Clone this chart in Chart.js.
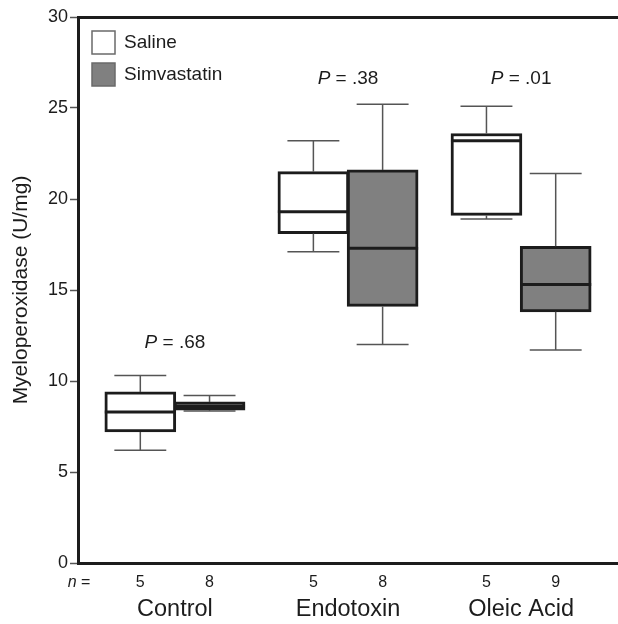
<!DOCTYPE html>
<html>
<head>
<meta charset="utf-8">
<title>Myeloperoxidase box plot</title>
<script src="https://cdn.jsdelivr.net/npm/chart.js@4/dist/chart.umd.min.js"></script>
<style>
  html, body { margin: 0; padding: 0; background: #fff; }
</style>
</head>
<body>
<canvas id="mpoChart" width="618" height="624"></canvas>
<script>
// ---------------------------------------------------------------------------
// Data
// ---------------------------------------------------------------------------
const groups = ['Control', 'Endotoxin', 'Oleic Acid'];
const seriesNames = ['Saline', 'Simvastatin'];

const salineMin = [6.2, 17.1, 18.9];
const salineQ1 = [7.2, 18.1, 19.1];
const salineMedian = [8.3, 19.3, 23.2];
const salineQ3 = [9.4, 21.5, 23.6];
const salineMax = [10.3, 23.2, 25.1];
const salineN = [5, 5, 5];

const simvaMin = [8.35, 12.0, 11.7];
const simvaQ1 = [8.4, 14.1, 13.8];
const simvaMedian = [8.6, 17.3, 15.3];
const simvaQ3 = [8.85, 21.6, 17.4];
const simvaMax = [9.2, 25.2, 21.4];
const simvaN = [8, 8, 9];

const pValues = ['.68', '.38', '.01'];
const yTicks = [0, 5, 10, 15, 20, 25, 30];

// ---------------------------------------------------------------------------
// Look and layout
// ---------------------------------------------------------------------------
const FONT = "'Liberation Sans', Arial, Helvetica, sans-serif";
const INK = '#1c1c1c';
const WHISKER = '#555555';
const SIMVA_FILL = '#808080';

const boxOffset = 0.2; // box centre distance from group centre (axis units)
const boxWidthPx = 71;
const capWidth = 0.3; // axis units
const pLabelY = [12.1, 26.6, 26.6]; // where the P labels sit, in y units

const series = [
  { min: salineMin, q1: salineQ1, med: salineMedian, q3: salineQ3, max: salineMax, n: salineN, dx: -boxOffset },
  { min: simvaMin, q1: simvaQ1, med: simvaMedian, q3: simvaQ3, max: simvaMax, n: simvaN, dx: boxOffset },
];

// Draw a run of text parts (some italic) centred on cx, cy
function drawParts(ctx, parts, cx, cy, size) {
  ctx.textBaseline = 'middle';
  ctx.textAlign = 'left';
  let total = 0;
  parts.forEach((p) => {
    ctx.font = `${p.italic ? 'italic ' : ''}${size}px ${FONT}`;
    p.w = ctx.measureText(p.text).width;
    total += p.w;
  });
  let x = cx - total / 2;
  parts.forEach((p) => {
    ctx.font = `${p.italic ? 'italic ' : ''}${size}px ${FONT}`;
    ctx.fillText(p.text, x, cy);
    x += p.w;
  });
}

// Medians, whiskers, caps, annotations and the legend
const boxplotExtras = {
  id: 'boxplotExtras',
  afterDatasetsDraw(chart) {
    const { ctx, scales } = chart;
    const xs = scales.x;
    const ys = scales.y;
    ctx.save();
    series.forEach((s, d) => {
      const meta = chart.getDatasetMeta(d);
      groups.forEach((g, i) => {
        const el = meta.data[i];
        const { x, width } = el.getProps(['x', 'width'], true);
        const capL = xs.getPixelForValue(i + s.dx - capWidth / 2);
        const capR = xs.getPixelForValue(i + s.dx + capWidth / 2);

        // whiskers
        ctx.strokeStyle = WHISKER;
        ctx.lineWidth = 1.5;
        ctx.beginPath();
        ctx.moveTo(x, ys.getPixelForValue(s.q3[i]));
        ctx.lineTo(x, ys.getPixelForValue(s.max[i]));
        ctx.moveTo(x, ys.getPixelForValue(s.q1[i]));
        ctx.lineTo(x, ys.getPixelForValue(s.min[i]));
        ctx.moveTo(capL, ys.getPixelForValue(s.max[i]));
        ctx.lineTo(capR, ys.getPixelForValue(s.max[i]));
        ctx.moveTo(capL, ys.getPixelForValue(s.min[i]));
        ctx.lineTo(capR, ys.getPixelForValue(s.min[i]));
        ctx.stroke();

        // median
        ctx.strokeStyle = INK;
        ctx.lineWidth = 3;
        ctx.beginPath();
        ctx.moveTo(x - width / 2, ys.getPixelForValue(s.med[i]));
        ctx.lineTo(x + width / 2, ys.getPixelForValue(s.med[i]));
        ctx.stroke();
      });
    });
    ctx.restore();
  },
  afterDraw(chart) {
    const { ctx, chartArea, scales } = chart;
    const xs = scales.x;
    const ys = scales.y;
    ctx.save();
    ctx.fillStyle = INK;

    // P values above each group
    groups.forEach((g, i) => {
      drawParts(ctx, [{ text: 'P', italic: true }, { text: ' = ' + pValues[i] }],
        xs.getPixelForValue(i), ys.getPixelForValue(pLabelY[i]), 19);
    });

    // n row and group names under the axis
    const nY = chartArea.bottom + 20;
    const nameY = chartArea.bottom + 47;
    drawParts(ctx, [{ text: 'n', italic: true }, { text: ' =' }], 79, nY, 16);
    series.forEach((s) => {
      groups.forEach((g, i) => {
        drawParts(ctx, [{ text: String(s.n[i]) }], xs.getPixelForValue(i + s.dx), nY, 16);
      });
    });
    groups.forEach((g, i) => {
      drawParts(ctx, [{ text: g }], xs.getPixelForValue(i), nameY, 23.5);
    });

    // legend
    const lx = chartArea.left + 14;
    let ly = chartArea.top + 14;
    chart.data.datasets.forEach((ds) => {
      ctx.fillStyle = ds.backgroundColor;
      ctx.fillRect(lx, ly, 23, 23);
      ctx.strokeStyle = '#6a6a6a';
      ctx.lineWidth = 1.5;
      ctx.strokeRect(lx, ly, 23, 23);
      ctx.fillStyle = INK;
      ctx.font = `19px ${FONT}`;
      ctx.textAlign = 'left';
      ctx.textBaseline = 'middle';
      ctx.fillText(ds.label, lx + 32, ly + 12);
      ly += 32;
    });
    ctx.restore();
  },
};

// ---------------------------------------------------------------------------
// Chart
// ---------------------------------------------------------------------------
const xRange = { min: -0.56, max: 2.56 };

const boxData = series.map((s, d) => ({
  label: seriesNames[d],
  data: groups.map((g, i) => ({ x: i + s.dx, y: [s.q1[i], s.q3[i]] })),
  backgroundColor: d === 0 ? '#ffffff' : SIMVA_FILL,
  borderColor: INK,
  borderWidth: 3,
  borderSkipped: false,
  barThickness: boxWidthPx,
  grouped: false,
}));

new Chart(document.getElementById('mpoChart').getContext('2d'), {
  type: 'bar',
  data: { datasets: boxData },
  plugins: [boxplotExtras],
  options: {
    responsive: false,
    animation: false,
    devicePixelRatio: 1,
    layout: { padding: 0 },
    plugins: {
      legend: { display: false },
      tooltip: { enabled: false },
    },
    scales: {
      x: {
        type: 'linear',
        position: 'bottom',
        min: xRange.min,
        max: xRange.max,
        offset: false,
        grid: { display: false },
        ticks: { display: false },
        border: { display: true, color: INK, width: 3 },
        afterFit: (s) => { s.height = 61; },
      },
      xTop: {
        type: 'linear',
        position: 'top',
        min: xRange.min,
        max: xRange.max,
        offset: false,
        grid: { display: false },
        ticks: { display: false },
        border: { display: true, color: INK, width: 3 },
        afterFit: (s) => { s.height = 17; },
      },
      y: {
        type: 'linear',
        min: yTicks[0],
        max: yTicks[yTicks.length - 1],
        afterBuildTicks: (s) => { s.ticks = yTicks.map((v) => ({ value: v })); },
        ticks: {
          color: INK,
          padding: 2,
          font: { family: FONT, size: 18 },
        },
        grid: {
          drawOnChartArea: false,
          drawTicks: true,
          tickLength: 8,
          tickColor: WHISKER,
          tickWidth: 1.5,
        },
        border: { color: INK, width: 3 },
        title: {
          display: true,
          text: 'Myeloperoxidase (U/mg)',
          color: INK,
          font: { family: FONT, size: 21 },
          padding: { top: 9, bottom: 0 },
        },
        afterFit: (s) => { s.width = 78; },
      },
    },
  },
});
</script>
</body>
</html>
